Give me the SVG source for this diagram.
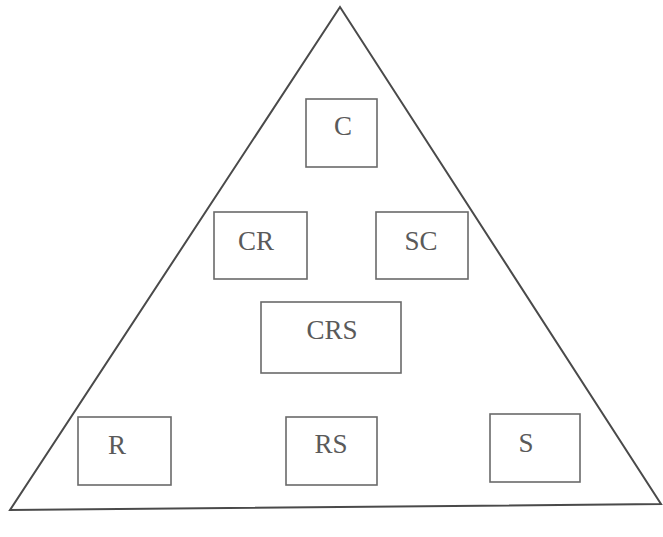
<svg xmlns="http://www.w3.org/2000/svg" width="663" height="537" viewBox="0 0 663 537">
<style>
.box{fill:none;stroke:#6a6a6a;stroke-width:1.6}
.lbl{font-family:"Liberation Serif","Times New Roman",serif;font-size:27px;fill:#5a5a5a;text-anchor:middle}
.tri{fill:none;stroke:#4a4a4a;stroke-width:2;stroke-linejoin:miter}
</style>
<rect width="663" height="537" fill="#ffffff"/>
<g id="pyramid">
<path class="tri" d="M340,7 L10,510 L661,504 Z"/>
</g>
<g id="connectors"></g>
<g id="node-C"><rect class="box" x="306" y="99" width="71" height="68"/><text class="lbl" x="343" y="135">C</text></g>
<g id="node-CR"><rect class="box" x="214" y="212" width="93" height="67"/><text class="lbl" x="256" y="250">CR</text></g>
<g id="node-SC"><rect class="box" x="376" y="212" width="92" height="67"/><text class="lbl" x="421" y="250">SC</text></g>
<g id="node-CRS"><rect class="box" x="261" y="302" width="140" height="71"/><text class="lbl" x="332" y="339">CRS</text></g>
<g id="node-R"><rect class="box" x="78" y="417" width="93" height="68"/><text class="lbl" x="117" y="454">R</text></g>
<g id="node-RS"><rect class="box" x="286" y="417" width="91" height="68"/><text class="lbl" x="331" y="453">RS</text></g>
<g id="node-S"><rect class="box" x="490" y="414" width="90" height="68"/><text class="lbl" x="526" y="452">S</text></g>
</svg>
